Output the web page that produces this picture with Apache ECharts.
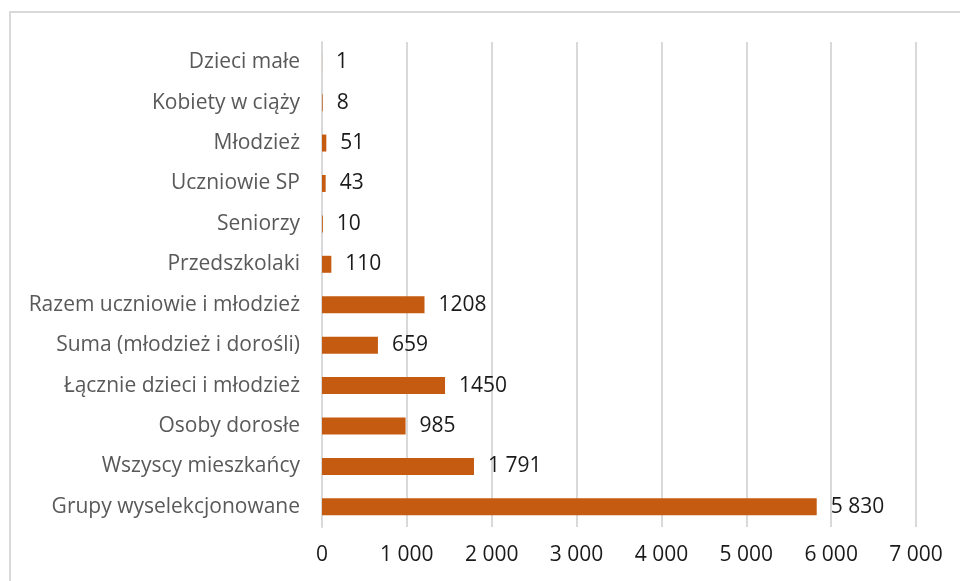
<!DOCTYPE html>
<html>
<head>
<meta charset="utf-8">
<script src="https://cdn.jsdelivr.net/npm/echarts@6/dist/echarts.min.js"></script>
<style>
  html, body { margin: 0; padding: 0; background: #fff; }
  #chart { width: 960px; height: 581px; }
</style>
</head>
<body>
<div id="chart"></div>
<script>
// kategorie od dołu do góry (oś kategorii w ECharts rośnie w górę)
const categories = [
    'Grupy wyselekcjonowane',
    'Wszyscy mieszkańcy',
    'Osoby dorosłe',
    'Łącznie dzieci i młodzież',
    'Suma (młodzież i dorośli)',
    'Razem uczniowie i młodzież',
    'Przedszkolaki',
    'Seniorzy',
    'Uczniowie SP',
    'Młodzież',
    'Kobiety w ciąży',
    'Dzieci małe'
];
const values = [5830, 1791, 985, 1450, 659, 1208, 110, 10, 43, 51, 8, 1];
const valueLabels = ['5 830', '1 791', '985', '1450', '659', '1208', '110', '10', '43', '51', '8', '1'];
const xTicks = [0, 1000, 2000, 3000, 4000, 5000, 6000, 7000];

const fontFamily = '"Open Sans", Lato, sans-serif';

const chart = echarts.init(document.getElementById('chart'));

const option = {
    animation: false,
    backgroundColor: '#fff',
    graphic: [{
        type: 'rect',
        shape: { x: 10, y: 12, width: 1000, height: 1000 },
        style: { fill: 'none', stroke: '#d9d9d9', lineWidth: 2 },
        silent: true
    }],
    grid: {
        left: 322,
        right: 44,
        top: 42,
        bottom: 54,
        containLabel: false
    },
    xAxis: {
        type: 'value',
        min: xTicks[0],
        max: xTicks[xTicks.length - 1],
        interval: 1000,
        axisLine: { show: false },
        axisTick: { show: false },
        splitLine: { show: true, lineStyle: { color: '#d9d9d9', width: 2 } },
        axisLabel: {
            margin: 18,
            color: '#1a1a1a',
            fontSize: 21,
            fontFamily: fontFamily,
            formatter: v => String(v).replace(/\B(?=(\d{3})+(?!\d))/g, ' ')
        }
    },
    yAxis: {
        type: 'category',
        data: categories,
        axisLine: { show: true, lineStyle: { color: '#d9d9d9', width: 2 } },
        axisTick: { show: false },
        axisLabel: {
            margin: 22,
            color: '#595959',
            fontSize: 21,
            fontFamily: fontFamily
        }
    },
    series: [{
        type: 'bar',
        data: values,
        barWidth: 17,
        itemStyle: {
            color: '#C55A11'
        },
        label: {
            show: true,
            position: 'right',
            distance: 14,
            color: '#1a1a1a',
            fontSize: 21,
            fontFamily: fontFamily,
            formatter: p => valueLabels[p.dataIndex]
        }
    }]
};

chart.setOption(option);
</script>
</body>
</html>
